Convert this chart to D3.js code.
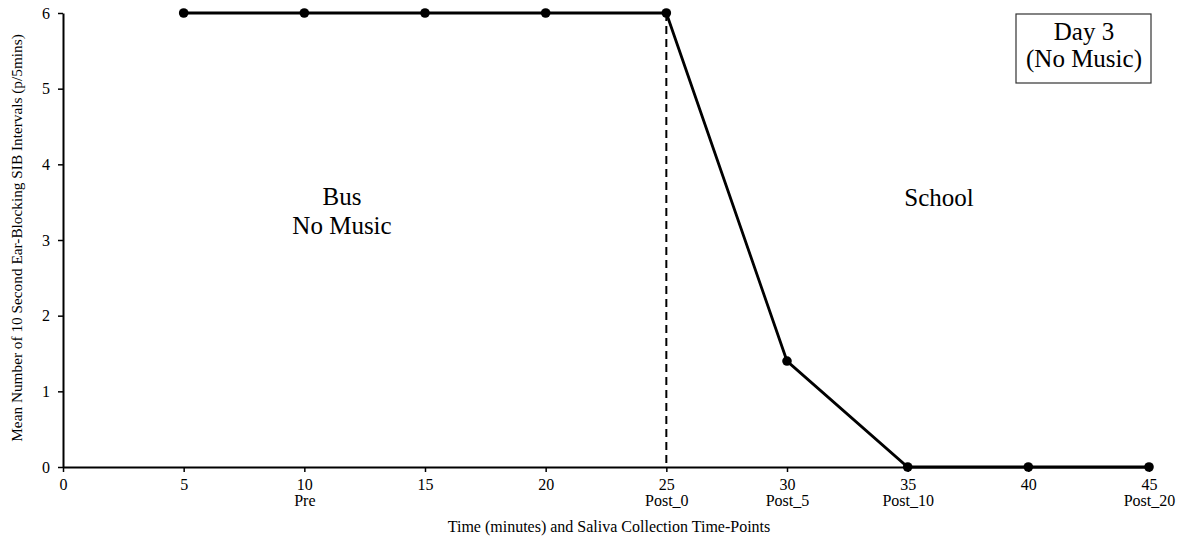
<!DOCTYPE html>
<html lang="en">
<head>
<meta charset="UTF-8">
<title>Day 3 (No Music)</title>
<script src="https://d3js.org/d3.v7.min.js"></script>
<style>
  body { margin: 0; background: #fff; }
  text { font-family: "Liberation Serif", "Times New Roman", serif; fill: #000; }
</style>
</head>
<body>
<svg width="1194" height="540"></svg>
<script>
    // data
    let minutes = [5, 10, 15, 20, 25, 30, 35, 40, 45]
    let meanSIB = [6, 6, 6, 6, 6, 1.4, 0, 0, 0]
    let xTicks = [0, 5, 10, 15, 20, 25, 30, 35, 40, 45]
    let yTicks = [0, 1, 2, 3, 4, 5, 6]
    let timePoints = {10: "Pre", 25: "Post_0", 30: "Post_5", 35: "Post_10", 45: "Post_20"}
    let musicOff = 25

    let svg = d3.select('svg')
    let margin = {left: 63, right: 45, top: 13, bottom: 73}
    let width = 1194, height = 540

    let x = d3.scaleLinear().domain([0, 45]).range([margin.left, width - margin.right])
    let y = d3.scaleLinear().domain([0, 6]).range([height - margin.bottom, margin.top])

    // y axis
    let yAxis = svg.append("g")
        .attr("transform", `translate(${x(0)},0)`)
        .call(d3.axisLeft(y).tickValues(yTicks).tickSize(5).tickPadding(8).tickSizeOuter(0).tickFormat(d3.format("d")))
    yAxis.select(".domain").attr("stroke-width", 2)
    yAxis.selectAll(".tick line").attr("stroke-width", 1.5)
    yAxis.selectAll("text").style("font-size", "16px").style("font-family", "Liberation Serif")

    // x axis
    let xAxis = svg.append("g")
        .attr("transform", `translate(0,${y(0)})`)
        .call(d3.axisBottom(x).tickValues(xTicks).tickSize(5).tickPadding(7).tickSizeOuter(0))
    xAxis.select(".domain").attr("stroke-width", 2)
    xAxis.selectAll(".tick line").attr("stroke-width", 1.5)
    xAxis.selectAll("text").style("font-size", "16px").style("font-family", "Liberation Serif")
    xAxis.selectAll(".tick").append("text")
        .attr("y", 39)
        .attr("fill", "#000")
        .style("font-size", "16px")
        .style("font-family", "Liberation Serif")
        .attr("text-anchor", "middle")
        .text(d => timePoints[d] || "")

    // dashed divider
    svg.append("line")
        .attr("x1", x(musicOff)).attr("x2", x(musicOff))
        .attr("y1", y(6)).attr("y2", y(0))
        .attr("stroke", "#000").attr("stroke-width", 2)
        .attr("stroke-dasharray", "8,5")

    // series
    let pts = minutes.map((m, i) => [m, meanSIB[i]])
    svg.append("path")
        .datum(pts)
        .attr("fill", "none")
        .attr("stroke", "#000")
        .attr("stroke-width", 2.8)
        .attr("d", d3.line().x(d => x(d[0])).y(d => y(d[1])))

    svg.append("g").selectAll("circle")
        .data(pts)
        .enter()
        .append("circle")
        .attr("cx", d => x(d[0]))
        .attr("cy", d => y(d[1]))
        .attr("r", 4.8)
        .attr("fill", "#000")

    // annotations
    svg.append("text").attr("x", 342).attr("y", 205).attr("text-anchor", "middle")
        .style("font-size", "25px").text("Bus")
    svg.append("text").attr("x", 342).attr("y", 234).attr("text-anchor", "middle")
        .style("font-size", "25px").text("No Music")
    svg.append("text").attr("x", 939).attr("y", 206).attr("text-anchor", "middle")
        .style("font-size", "25px").text("School")

    // day box
    svg.append("rect")
        .attr("x", 1016).attr("y", 14).attr("width", 135).attr("height", 69)
        .attr("fill", "#fff").attr("stroke", "#333").attr("stroke-width", 1.2)
    svg.append("text").attr("x", 1084).attr("y", 40).attr("text-anchor", "middle")
        .style("font-size", "25px").text("Day 3")
    svg.append("text").attr("x", 1084).attr("y", 67).attr("text-anchor", "middle")
        .style("font-size", "25px").text("(No Music)")

    // axis titles
    svg.append("text")
        .attr("transform", `translate(22,238) rotate(-90)`)
        .attr("text-anchor", "middle")
        .style("font-size", "15.3px")
        .text("Mean Number of 10 Second Ear-Blocking SIB Intervals (p/5mins)")
    svg.append("text")
        .attr("x", 609).attr("y", 532).attr("text-anchor", "middle")
        .style("font-size", "16px")
        .text("Time (minutes) and Saliva Collection Time-Points")
</script>
</body>
</html>
